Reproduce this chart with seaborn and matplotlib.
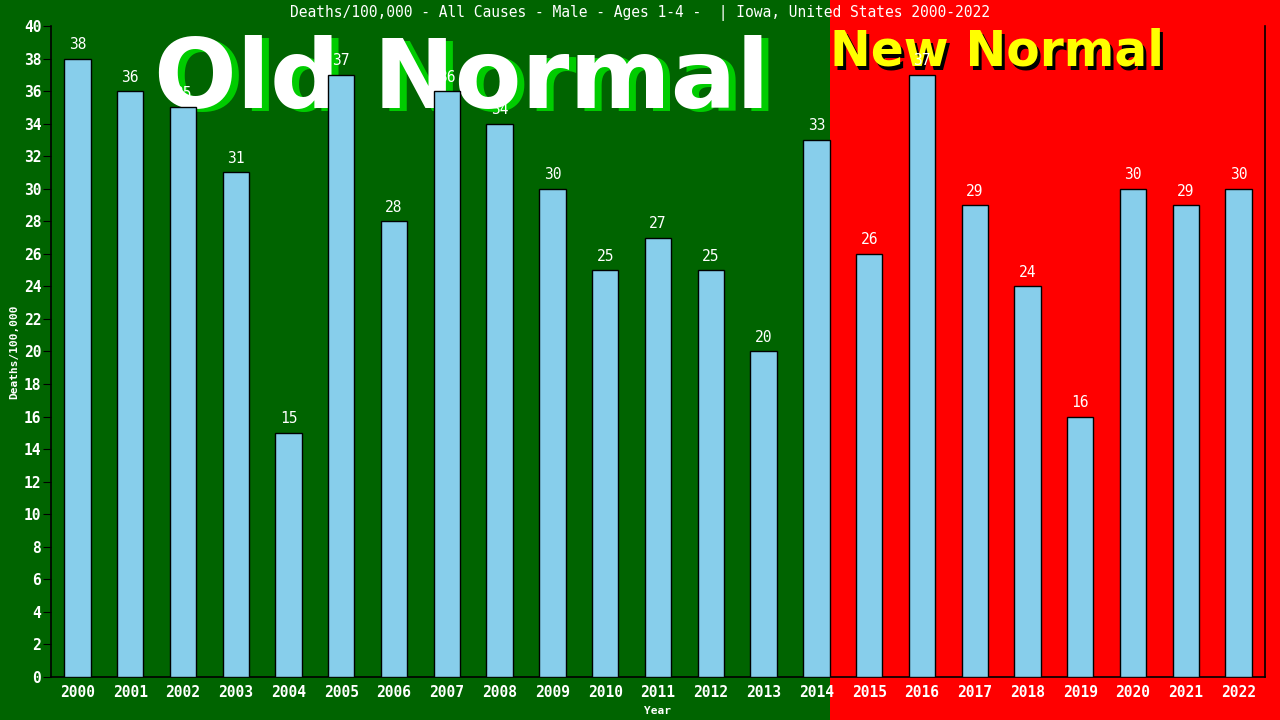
import matplotlib
matplotlib.use("Agg")
import matplotlib.pyplot as plt
import matplotlib.patches as mpatches
import seaborn as sns
import pandas as pd

# data
years = [str(y) for y in range(2000, 2023)]
deaths = [38, 36, 35, 31, 15, 37, 28, 36, 34, 30, 25, 27, 25, 20, 33,
          26, 37, 29, 24, 16, 30, 29, 30]
title = "Deaths/100,000 - All Causes - Male - Ages 1-4 -  | Iowa, United States 2000-2022"

df = pd.DataFrame({"Year": years, "Deaths": deaths})

sns.set_style("white")
plt.rcParams['font.family'] = ['DejaVu Sans Mono', 'DejaVu Sans']

fig = plt.figure(figsize=(12.8, 7.2), dpi=100, facecolor="#006400")
ax = fig.add_axes([51/1280, 43/720, (1265-51)/1280, (677-26)/720])
ax.set_facecolor("none")

# red "new normal" area, starting at the right edge of the 2014 bar
split = (51 + 14.75 * (1265 - 51) / 23) / 1280
fig.patches.append(mpatches.Rectangle((split, 0), 1 - split, 1, transform=fig.transFigure,
                                      facecolor="#ff0000", edgecolor="none", zorder=-1))

sns.barplot(data=df, x="Year", y="Deaths", color="#87CEEB", saturation=1,
            width=0.5, edgecolor="black", linewidth=1, ax=ax, zorder=3)

ax.set_xlim(-0.5, 22.5)
ax.set_ylim(0, 40)
ax.set_yticks(range(0, 41, 2))

for i, v in enumerate(deaths):
    ax.text(i, v + 0.4, str(v), ha="center", va="bottom", color="white",
            fontsize=10.5, zorder=5)

for s in ["left", "bottom", "right"]:
    ax.spines[s].set_color("black")
    ax.spines[s].set_linewidth(1.2)
ax.spines["top"].set_visible(False)

ax.tick_params(axis="y", colors="black", labelcolor="white", labelsize=10.5,
               length=6, direction="out", left=True, pad=1)
ax.tick_params(axis="x", labelcolor="white", labelsize=10.5, length=0, pad=6)
for lbl in ax.get_xticklabels() + ax.get_yticklabels():
    lbl.set_fontweight("bold")

ax.set_xlabel("Year", color="white", fontsize=8, fontweight="bold")
ax.set_ylabel("Deaths/100,000", color="white", fontsize=8, fontweight="bold")
ax.xaxis.set_label_coords(0.5, (677 - 706) / 651)
ax.yaxis.set_label_coords((19 - 51) / 1214, 0.5)

fig.text(0.5, 1 - 13/720, title, color="white", fontsize=10.5, ha="center", va="center")

# big labels with shadows, behind the bars
big = dict(fontweight="bold", family="DejaVu Sans", transform=fig.transFigure, clip_on=False)
ax.text(469/1280, 1 - 84/720, "Old Normal", color="#00cc00", fontsize=70,
        ha="center", va="center", zorder=1, **big)
ax.text(462/1280, 1 - 81/720, "Old Normal", color="white", fontsize=70,
        ha="center", va="center", zorder=2, **big)
ax.text(833/1280, 1 - 55/720, "New Normal", color="black", fontsize=35,
        ha="left", va="center", zorder=1, **big)
ax.text(830/1280, 1 - 52/720, "New Normal", color="#ffff00", fontsize=35,
        ha="left", va="center", zorder=2, **big)

fig.savefig("out.png", dpi=100, facecolor=fig.get_facecolor())
